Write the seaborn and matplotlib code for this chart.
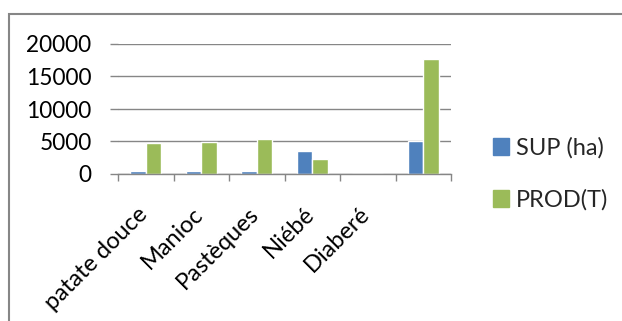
import matplotlib
matplotlib.use("Agg")
import matplotlib.pyplot as plt
import matplotlib.patches as mpatches
import matplotlib.transforms as mtransforms
import seaborn as sns
import pandas as pd
import numpy as np

categories = ["patate douce", "Manioc", "Pastèques", "Niébé", "Diaberé", ""]
sup_ha = [400, 400, 500, 3600, 0, 5150]
prod_t = [4700, 4900, 5400, 2250, 0, 17650]
series_names = ["SUP (ha)", "PROD(T)"]
y_ticks = [0, 5000, 10000, 15000, 20000]

sns.set_theme(style="white")
plt.rcParams['font.family'] = ['Lato', 'DejaVu Sans']

df = pd.DataFrame({
    "cat": categories * 2,
    "val": sup_ha + prod_t,
    "serie": [series_names[0]] * len(categories) + [series_names[1]] * len(categories),
})

fig = plt.figure(figsize=(6.22, 3.21), dpi=100)
ax = fig.add_axes([118/622, 1 - 174/321, (451-118)/622, (174-44)/321])

palette = {series_names[0]: "#4F81BD", series_names[1]: "#9BBB59"}
sns.barplot(data=df, x="cat", y="val", hue="serie", order=categories,
            hue_order=series_names, palette=palette, width=0.56,
            saturation=1, ax=ax, legend=True)

ax.set_xlim(-0.5, len(categories) - 0.5)
ax.set_ylim(0, 20000)
ax.set_yticks(y_ticks)
ax.set_yticklabels([str(t) for t in y_ticks], fontsize=16.3, color="black")
ax.set_xlabel("")
ax.set_ylabel("")

for s in ["top", "right", "left"]:
    ax.spines[s].set_visible(False)
ax.spines["bottom"].set_color("#868686")
ax.spines["bottom"].set_linewidth(1.0)
ax.yaxis.grid(True, color="#868686", linewidth=1.0)
ax.set_axisbelow(True)
ax.tick_params(axis="y", length=6, color="#868686", width=1.0, left=True, pad=13)

ax.set_xticks(np.arange(len(categories)))
ax.set_xticks(np.arange(-0.5, len(categories), 1.0), minor=True)
ax.tick_params(axis="x", which="major", length=0, pad=21)
ax.tick_params(axis="x", which="minor", length=5, color="#868686", width=1.0, bottom=True)
ax.set_xticklabels(categories, rotation=45, ha="right", rotation_mode="default",
                   fontsize=17, color="black")
shift = mtransforms.ScaledTranslation(6/100, 0, fig.dpi_scale_trans)
for lbl in ax.get_xticklabels():
    lbl.set_transform(lbl.get_transform() + shift)

handles = [mpatches.Patch(color=palette[n]) for n in series_names]
ax.legend(handles, series_names, loc="center left", bbox_to_anchor=(1.125, 0.0),
          frameon=False, fontsize=17, handlelength=0.7, handleheight=0.7,
          handletextpad=0.3, labelspacing=1.3, borderaxespad=0, borderpad=0)

# outer chart border
fig.patches.append(mpatches.Rectangle((9/622, -0.1), 1.2, 1 - 14/321 + 0.1,
                                      transform=fig.transFigure, fill=False,
                                      edgecolor="#868686", linewidth=1.5))

fig.savefig("out.png", dpi=100)
